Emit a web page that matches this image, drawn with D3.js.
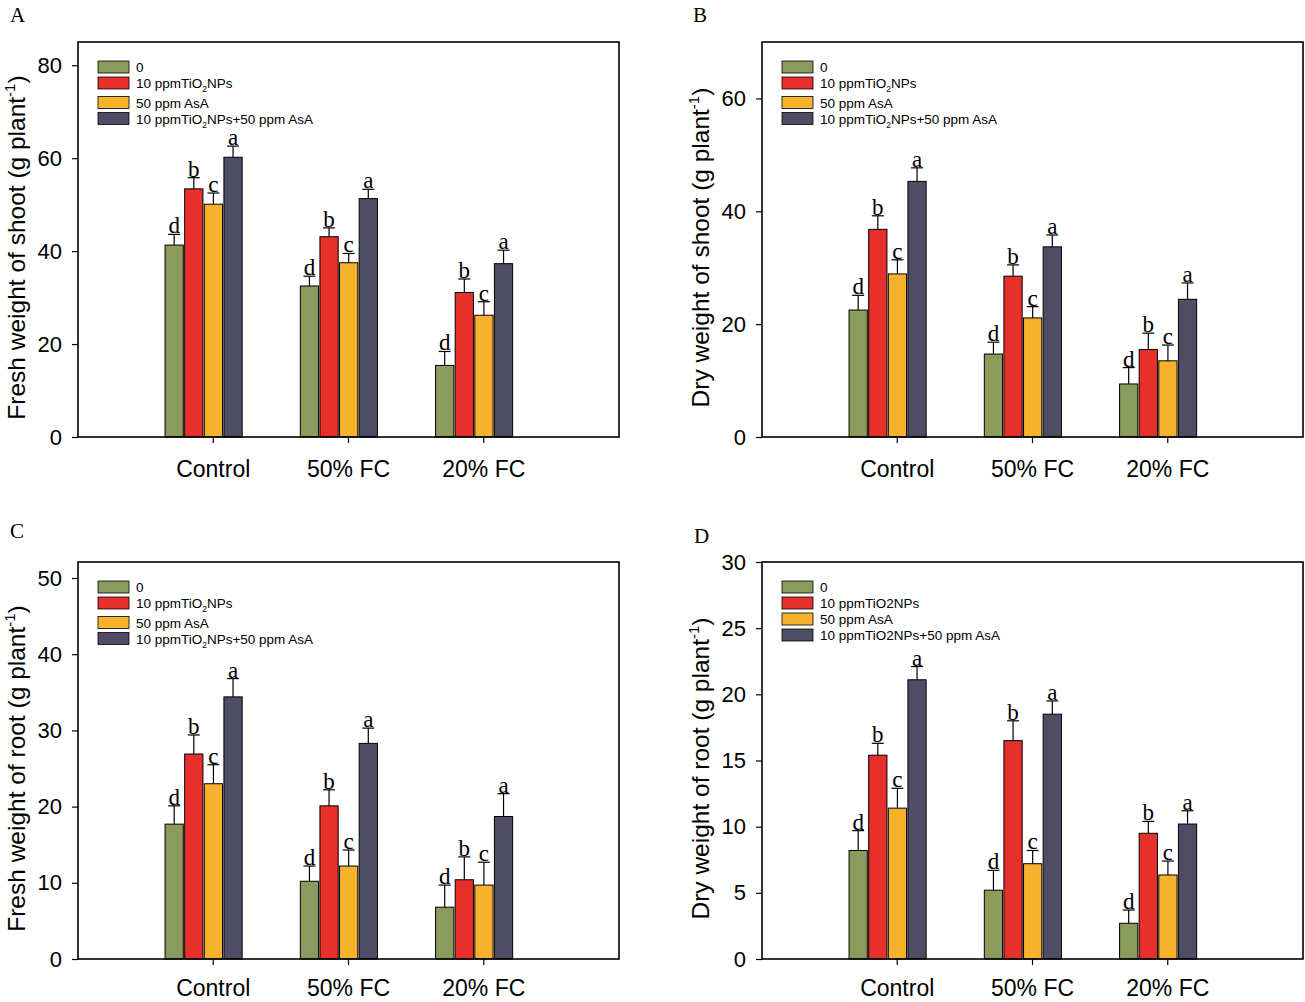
<!DOCTYPE html>
<html>
<head>
<meta charset="utf-8">
<script src="https://cdn.jsdelivr.net/npm/d3@7"></script>
<style>
  html, body { margin: 0; padding: 0; background: #ffffff; }
  svg { display: block; }
</style>
</head>
<body>
<svg id="chart" width="1305" height="1002"></svg>
<script>
// ---------------- DATA ----------------
const categories = ["Control", "50% FC", "20% FC"];
const seriesKeys = ["s0", "s1", "s2", "s3"];
const legendLabelsSub = ["0", "10 ppmTiO{2}NPs", "50 ppm AsA", "10 ppmTiO{2}NPs+50 ppm AsA"];
const legendLabelsPlain = ["0", "10 ppmTiO2NPs", "50 ppm AsA", "10 ppmTiO2NPs+50 ppm AsA"];
const seriesLetters = ["d", "b", "c", "a"];
const seriesColors = ["#8a9b5b", "#e5302b", "#f6b22d", "#4f4d66"];

// rows = categories, columns = series
const freshShootMean = [[41.3, 53.4, 50.1, 60.2], [32.5, 43.1, 37.5, 51.3], [15.4, 31.1, 26.2, 37.3]];
const freshShootErr  = [[2.3, 2.4, 2.4, 2.4], [2.1, 1.9, 2.0, 2.0], [3.0, 2.9, 2.9, 2.9]];
const dryShootMean   = [[22.5, 36.8, 28.9, 45.3], [14.7, 28.5, 21.1, 33.7], [9.4, 15.5, 13.5, 24.4]];
const dryShootErr    = [[2.6, 2.4, 2.5, 2.4], [2.1, 2.0, 2.0, 2.1], [2.9, 2.9, 2.8, 2.9]];
const freshRootMean  = [[17.7, 26.9, 23.0, 34.4], [10.2, 20.1, 12.2, 28.3], [6.8, 10.4, 9.7, 18.7]];
const freshRootErr   = [[2.4, 2.5, 2.5, 2.4], [2.0, 2.1, 2.1, 2.0], [2.9, 3.0, 3.0, 3.0]];
const dryRootMean    = [[8.2, 15.4, 11.4, 21.1], [5.2, 16.5, 7.2, 18.5], [2.7, 9.5, 6.35, 10.2]];
const dryRootErr     = [[1.5, 0.9, 1.5, 1.0], [1.5, 1.5, 1.0, 1.0], [1.0, 0.9, 1.05, 1.0]];

const ticksA = [0, 20, 40, 60, 80];
const ticksB = [0, 20, 40, 60];
const ticksC = [0, 10, 20, 30, 40, 50];
const ticksD = [0, 5, 10, 15, 20, 25, 30];

const panels = [
  { letter: "A", title: "Fresh weight of shoot", mean: freshShootMean, err: freshShootErr, yMax: 85, ticks: ticksA, legend: legendLabelsSub,
    box: { x0: 78, x1: 619, y0: 42, y1: 437 }, letterPos: [10, 22], catPad: 18 },
  { letter: "B", title: "Dry weight of shoot", mean: dryShootMean, err: dryShootErr, yMax: 70, ticks: ticksB, legend: legendLabelsSub,
    box: { x0: 762, x1: 1303, y0: 42, y1: 437 }, letterPos: [693, 22], catPad: 18 },
  { letter: "C", title: "Fresh weight of root", mean: freshRootMean, err: freshRootErr, yMax: 52.1, ticks: ticksC, legend: legendLabelsSub,
    box: { x0: 78, x1: 619, y0: 562, y1: 959 }, letterPos: [10, 538], catPad: 15 },
  { letter: "D", title: "Dry weight of root", mean: dryRootMean, err: dryRootErr, yMax: 30, ticks: ticksD, legend: legendLabelsPlain,
    box: { x0: 762, x1: 1303, y0: 562, y1: 959 }, letterPos: [694, 543], catPad: 15 }
];

// ---------------- DRAW ----------------
const svg = d3.select("#chart");
const SANS = "'Liberation Sans', Arial, Helvetica, sans-serif";
const SERIF = "'Liberation Serif', 'Times New Roman', serif";

function addRichText(sel, label, fontSize) {
  // label with {x} marking subscript
  const parts = label.split(/(\{[^}]*\})/).filter(p => p.length);
  let shifted = false;
  parts.forEach(p => {
    if (p.startsWith("{")) {
      sel.append("tspan").attr("dy", fontSize * 0.3).attr("font-size", fontSize * 0.62).text(p.slice(1, -1));
      shifted = true;
    } else {
      const t = sel.append("tspan").text(p);
      if (shifted) { t.attr("dy", -fontSize * 0.3); shifted = false; }
    }
  });
}

panels.forEach(p => {
  const b = p.box;
  const w = b.x1 - b.x0, h = b.y1 - b.y0;
  const g = svg.append("g").attr("transform", `translate(${b.x0},${b.y0})`);

  const x = d3.scaleBand().domain(categories).range([w / 8, w * 7 / 8]).paddingInner(0.43).paddingOuter(0.215);
  // bar cluster sits slightly left of the category tick, as in the original
  const shift = -x.bandwidth() / 8;
  const xs = d3.scaleBand().domain(seriesKeys).range([shift, x.bandwidth() + shift]).paddingInner(0.07);
  const y = d3.scaleLinear().domain([0, p.yMax]).range([h, 0]);

  // bars
  categories.forEach((cat, ci) => {
    const grp = g.append("g").attr("transform", `translate(${x(cat)},0)`);
    seriesKeys.forEach((k, si) => {
      const v = p.mean[ci][si];
      const e = p.err[ci][si];
      const bx = xs(k), bw = xs.bandwidth();
      const cx = bx + bw / 2;
      grp.append("rect")
        .attr("x", bx).attr("y", y(v)).attr("width", bw).attr("height", y(0) - y(v))
        .attr("fill", seriesColors[si]).attr("stroke", "#000").attr("stroke-width", 1);
      grp.append("line").attr("x1", cx).attr("x2", cx).attr("y1", y(v)).attr("y2", y(v + e))
        .attr("stroke", "#000").attr("stroke-width", 1.2);
      grp.append("line").attr("x1", cx - 6).attr("x2", cx + 6).attr("y1", y(v + e)).attr("y2", y(v + e))
        .attr("stroke", "#000").attr("stroke-width", 1.2);
      grp.append("text").attr("x", cx).attr("y", y(v + e) - 1)
        .attr("text-anchor", "middle").attr("font-family", SERIF).attr("font-size", 23)
        .attr("fill", "#000").text(seriesLetters[si]);
    });
  });

  // y axis
  const yAxis = d3.axisLeft(y).tickValues(p.ticks).tickSize(6).tickPadding(10).tickFormat(d3.format("d"));
  const ya = g.append("g").call(yAxis);
  ya.select(".domain").remove();
  ya.selectAll("line").attr("stroke", "#000").attr("stroke-width", 1.2);
  ya.selectAll("text").attr("font-family", SANS).attr("font-size", 22).attr("fill", "#000");

  // x axis
  const xAxis = d3.axisBottom(x).tickSize(6).tickPadding(p.catPad);
  const xa = g.append("g").attr("transform", `translate(0,${h})`).call(xAxis);
  xa.select(".domain").remove();
  xa.selectAll("line").attr("stroke", "#000").attr("stroke-width", 1.2);
  xa.selectAll("text").attr("font-family", SANS).attr("font-size", 23).attr("fill", "#000");

  // frame
  g.append("rect").attr("x", 0).attr("y", 0).attr("width", w).attr("height", h)
    .attr("fill", "none").attr("stroke", "#000").attr("stroke-width", 1.6);

  // legend
  let ly = 25;
  p.legend.forEach((lab, i) => {
    if (i > 0) ly += 16 + (p.legend[i - 1].includes("{") ? 3.5 : 0);
    g.append("rect").attr("x", 20).attr("y", ly - 6).attr("width", 31).attr("height", 12)
      .attr("fill", seriesColors[i]).attr("stroke", "#000").attr("stroke-width", 0.8);
    const t = g.append("text").attr("x", 58).attr("y", ly + 5)
      .attr("font-family", SANS).attr("font-size", 13.5).attr("fill", "#000");
    addRichText(t, lab, 13.5);
  });

  // y title
  const ty = g.append("text")
    .attr("transform", `translate(-53,${h / 2 + 8}) rotate(-90)`)
    .attr("text-anchor", "middle").attr("font-family", SANS).attr("font-size", 24.5).attr("fill", "#000");
  ty.append("tspan").text(p.title + " (g plant");
  ty.append("tspan").attr("dy", -10).attr("font-size", 15).text("-1");
  ty.append("tspan").attr("dy", 10).text(")");

  // panel letter
  svg.append("text").attr("x", p.letterPos[0]).attr("y", p.letterPos[1])
    .attr("font-family", SERIF).attr("font-size", 21).attr("fill", "#000").text(p.letter);
});
</script>
</body>
</html>
